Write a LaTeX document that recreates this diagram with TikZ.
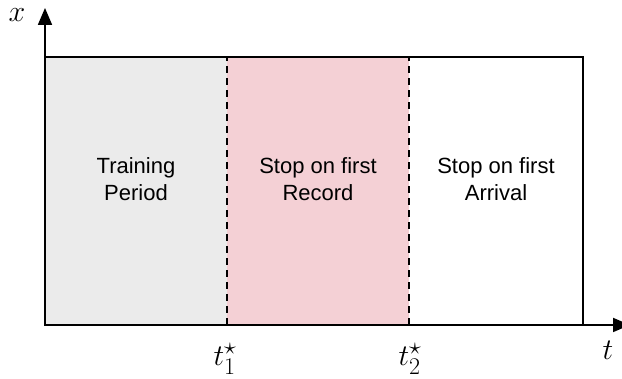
\RequirePackage{fix-cm}
\documentclass[tikz,border=0pt]{standalone}
\usepackage{amsmath}
\usepackage{fontspec}
\setmainfont{Liberation Sans}
\usepackage{tikz}
\usetikzlibrary{arrows.meta}

\DeclareMathSizes{30}{30}{24}{18}
\definecolor{trainfill}{HTML}{EBEBEB}
\definecolor{recordfill}{HTML}{F4D0D5}

\begin{document}
\begin{tikzpicture}[x=1pt, y=1pt,
    axis/.style={line width=1.8pt, -{Triangle[length=17pt, width=14pt]}},
    phase/.style={align=center, font=\fontsize{22}{26.5}\selectfont},
    tlabel/.style={font=\fontsize{30}{34}\selectfont}]
  \useasboundingbox (-45,-54) rectangle (577,325);

  \coordinate (O) at (0,0);
  \coordinate (T1) at (182,0);
  \coordinate (T2) at (364,0);
  \coordinate (E) at (538,0);
  \coordinate (NW) at (0,268);
  \coordinate (T1top) at (182,268);
  \coordinate (T2top) at (364,268);
  \coordinate (NE) at (538,268);

  % the three phases
  \fill[trainfill] (O) rectangle (T1top);
  \fill[recordfill] (T1) rectangle (T2top);
  \draw[line width=1.5pt] (O) rectangle (NE);
  \draw[dashed, line width=1.2pt, dash pattern=on 7pt off 5pt] (T1)--(T1top);
  \draw[dashed, line width=1.2pt, dash pattern=on 7pt off 5pt] (T2)--(T2top);

  \node[phase] (train) at (91,146) {Training\\Period};
  \node[phase] (record) at (273,146) {Stop on first\\Record};
  \node[phase] (arrival) at (451,146) {Stop on first\\Arrival};

  % axes
  \draw[axis] (O)--(0,317);
  \draw[axis] (O)--(585,0);
  \node[tlabel] (xlab) at (-28,310) {$x$};
  \node[tlabel] (tlab) at (563,-25) {$t$};
  \node[tlabel] (t1lab) at (180,-34) {$t_1^\star$};
  \node[tlabel] (t2lab) at (365,-34) {$t_2^\star$};
\end{tikzpicture}
\end{document}
